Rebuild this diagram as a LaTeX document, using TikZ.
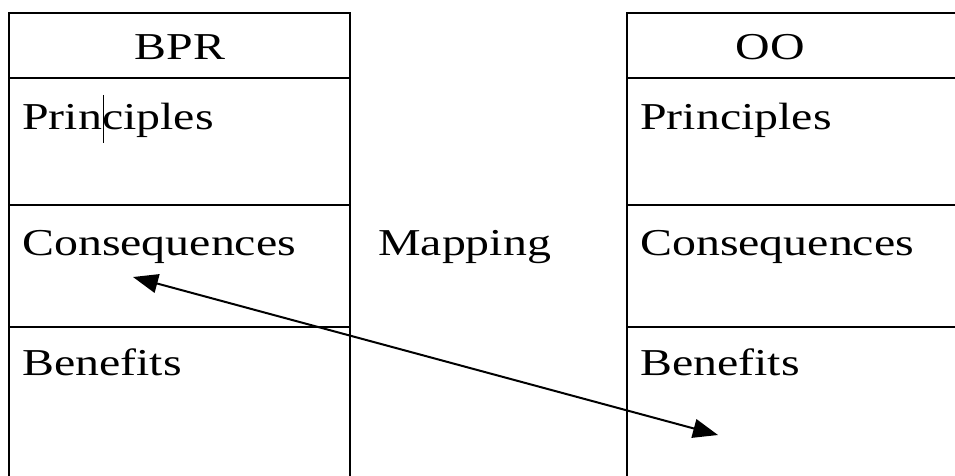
\documentclass[tikz,border=0pt]{standalone}
\usepackage{fontspec}
\setmainfont{Liberation Serif}[FakeStretch=1.26]
\usetikzlibrary{arrows.meta}
\begin{document}
\begin{tikzpicture}[x=1pt,y=-1pt,
  tbl/.style={draw=black, line width=1.6pt},
  lbl/.style={font=\fontsize{38}{40}\selectfont, anchor=base west, inner sep=0pt},
  hdr/.style={font=\fontsize{38}{40}\selectfont, anchor=base, inner sep=0pt},
  link/.style={line width=2pt, {Triangle[length=25pt,width=19pt]}-{Triangle[length=25pt,width=19pt]}}]
\useasboundingbox (0,0) rectangle (955,476);
% left table
\draw[tbl] (9,490) -- (9,13) -- (350,13) -- (350,490);
\draw[tbl] (9,78) -- (350,78);
\draw[tbl] (9,205) -- (350,205);
\draw[tbl] (9,327) -- (350,327);
% right table
\draw[tbl] (627,490) -- (627,13) -- (970,13);
\draw[tbl] (627,78) -- (970,78);
\draw[tbl] (627,205) -- (970,205);
\draw[tbl] (627,327) -- (970,327);
% texts
\node[hdr] (bpr) at (180,60) {BPR};
\node[hdr] (oo) at (770,60) {OO};
\node[lbl] (lp) at (22,130) {Principles};
\node[lbl] (lc) at (22,255) {Consequences};
\node[lbl] (lb) at (22,375) {Benefits};
\node[lbl] (rp) at (640,130) {Principles};
\node[lbl] (rc) at (640,255) {Consequences};
\node[lbl] (rb) at (640,375) {Benefits};
\node[lbl] (map) at (378,255) {Mapping};
% text cursor
\draw[line width=0.9pt] (103,95) -- (103,143);
% mapping arrow
\coordinate (a) at (133,277);
\coordinate (b) at (718,435);
\draw[link] (a) -- (b);
\end{tikzpicture}
\end{document}
